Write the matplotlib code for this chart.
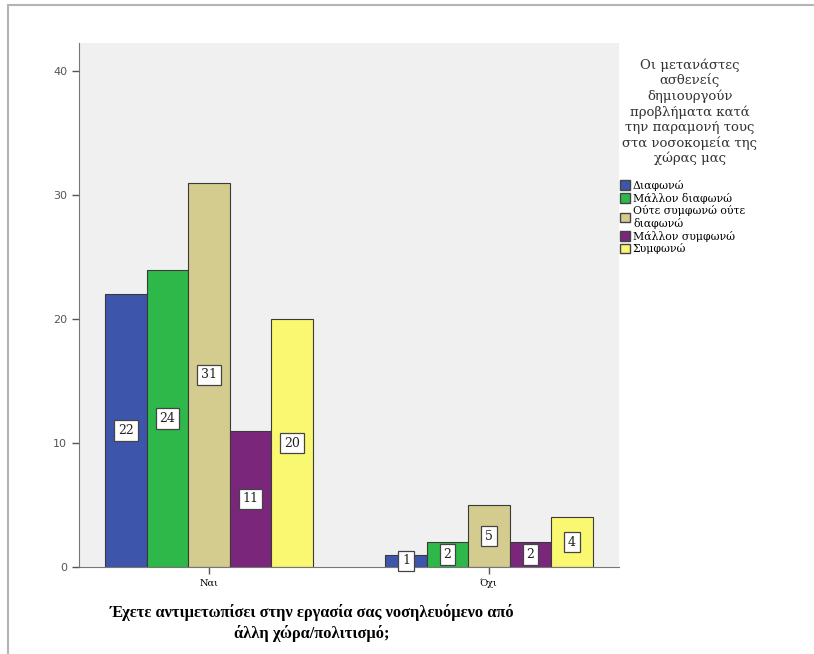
import numpy as np
import matplotlib
matplotlib.use("Agg")
import matplotlib.pyplot as plt
from matplotlib.patches import Patch, Rectangle

# Data
groups = ["Ναι", "Όχι"]
answers = ["Διαφωνώ", "Μάλλον διαφωνώ", "Ούτε συμφωνώ ούτε\nδιαφωνώ",
           "Μάλλον συμφωνώ", "Συμφωνώ"]
counts_yes = [22, 24, 31, 11, 20]
counts_no = [1, 2, 5, 2, 4]
colors = ["#3d56ab", "#2eb84a", "#d3cc8e", "#7a277b", "#faf771"]
yticks = [0, 10, 20, 30, 40]

legend_title = ("Οι μετανάστες\nασθενείς\nδημιουργούν\nπροβλήματα κατά\n"
                "την παραμονή τους\nστα νοσοκομεία της\nχώρας μας")
xlabel = "Έχετε αντιμετωπίσει στην εργασία σας νοσηλευόμενο από\nάλλη χώρα/πολιτισμό;"

W, H = 814, 654
fig = plt.figure(figsize=(W / 100, H / 100), dpi=100)
fig.patch.set_facecolor("white")

# outer gray frame
fig.add_artist(Rectangle((8 / W, -0.1), 1.2, (H - 5) / H + 0.1, transform=fig.transFigure,
                         fill=False, edgecolor="#b4b4b4", linewidth=1.5))

ax = fig.add_axes([79 / W, (H - 567) / H, 540 / W, (567 - 43) / H])
ax.set_facecolor("#f0f0f0")

x = np.arange(len(groups))
width = 0.148
data = np.array([counts_yes, counts_no])
for i, (ans, col) in enumerate(zip(answers, colors)):
    pos = x + (i - 2) * width
    vals = data[:, i]
    ax.bar(pos, vals, width, color=col, edgecolor="#3a3a3a", linewidth=0.8, label=ans)
    for p, v in zip(pos, vals):
        ax.text(p, v / 2, str(v), ha="center", va="center", fontsize=9,
                family="DejaVu Serif", color="#222222",
                bbox=dict(boxstyle="square,pad=0.3", fc="white", ec="#444444", lw=0.9))

ax.set_xlim(-0.464, 1.464)
ax.set_ylim(0, 42.3)
ax.set_yticks(yticks)
ax.set_xticks(x)
ax.set_xticklabels(groups, family="DejaVu Serif", fontsize=7)
ax.tick_params(axis="y", labelsize=8, colors="#555555", length=5, width=1)
ax.tick_params(axis="x", length=5, width=1, colors="#555555")
for lab in ax.get_xticklabels():
    lab.set_color("black")
for s in ["top", "right"]:
    ax.spines[s].set_visible(False)
ax.spines["left"].set_color("#777777")
ax.spines["bottom"].set_color("#777777")

fig.text(312 / W, 1 - 623 / H, xlabel, ha="center", va="center", fontsize=11.8,
         family="Liberation Serif", weight="bold", linespacing=1.25)

fig.text(690 / W, 1 - 58 / H, legend_title, ha="center", va="top", fontsize=9.5,
         family="DejaVu Serif", color="#333333", linespacing=1.2)

handles = [Patch(facecolor=c, edgecolor="#444444", label=a) for c, a in zip(colors, answers)]
fig.legend(handles=handles, loc="upper left", bbox_to_anchor=(620 / W, 1 - 180 / H),
           frameon=False, prop={"family": "DejaVu Serif", "size": 7.8},
           handlelength=0.9, handleheight=1.0, handletextpad=0.3,
           labelspacing=0.15, borderaxespad=0, borderpad=0)

fig.savefig("out.png", dpi=100)
